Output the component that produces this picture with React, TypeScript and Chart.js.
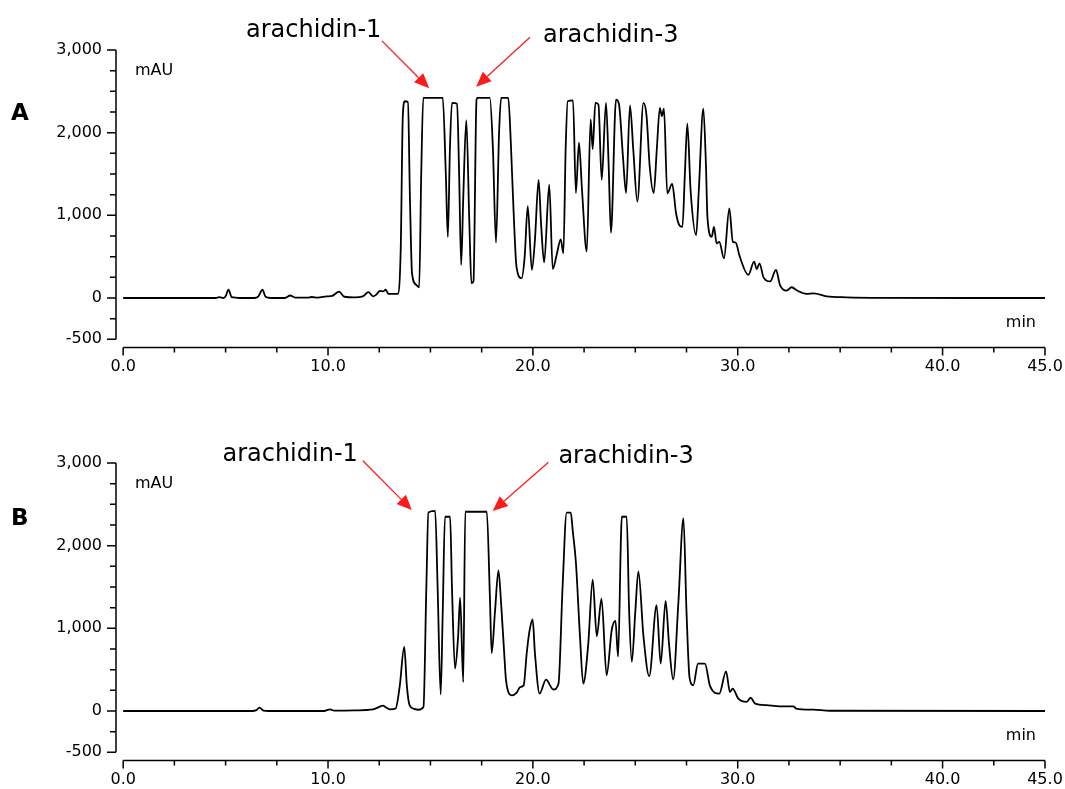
import React, { useEffect, useRef } from 'react';
import { Chart, registerables } from 'chart.js';

Chart.register(...registerables);

// ---- Data (retention time in min, absorbance in mAU) ----
const timesA = [
  0, 4.5, 4.7, 4.9, 5.0, 5.14, 5.3, 5.5, 5.7, 6.4, 6.6, 6.8, 6.95, 7.2, 7.9, 8.15, 8.4, 9.0, 9.2, 9.5,
  9.94, 10.2, 10.54, 10.8, 11.3, 11.7, 11.97, 12.2, 12.35, 12.54, 12.68, 12.82, 12.95, 13.4, 13.55, 13.65,
  13.75, 13.9, 14.0, 14.1, 14.3, 14.45, 14.55, 14.65, 15.6, 15.75, 15.85, 15.95, 16.05, 16.3, 16.4, 16.5,
  16.6, 16.75, 16.9, 17.0, 17.1, 17.25, 17.3, 17.9, 18.05, 18.2, 18.35, 18.45, 18.8, 18.92, 19.05, 19.2,
  19.45, 19.6, 19.75, 19.95, 20.1, 20.28, 20.4, 20.55, 20.8, 20.97, 21.16, 21.36, 21.49, 21.6, 21.7, 21.96,
  22.1, 22.25, 22.4, 22.63, 22.82, 22.92, 23.05, 23.2, 23.36, 23.57, 23.7, 23.81, 24.06, 24.2, 24.4, 24.55,
  24.74, 24.9, 25.1, 25.4, 25.55, 25.7, 25.9, 26.05, 26.2, 26.3, 26.4, 26.56, 26.8, 26.99, 27.15, 27.3,
  27.42, 27.54, 27.7, 27.97, 28.1, 28.32, 28.45, 28.52, 28.73, 28.84, 28.97, 29.1, 29.33, 29.59, 29.76,
  29.9, 30.1, 30.52, 30.8, 30.93, 31.06, 31.26, 31.58, 31.87, 32.06, 32.39, 32.63, 32.9, 33.36, 33.7,
  34.34, 35.3, 37.1, 45,
];
const valuesA = [
  0, 0, 10, 0, 20, 100, 10, 5, 0, 0, 20, 100, 15, 0, 0, 30, 5, 5, 12, 5,
  20, 25, 78, 15, 8, 20, 70, 20, 40, 87, 80, 100, 50, 50, 600, 2200,
  2380, 2370, 1200, 300, 160, 130, 1500, 2420, 2420, 1500, 740, 1800, 2360, 2350, 1500, 400,
  1200, 2150, 900, 180, 200, 2400, 2420, 2420, 1800, 670, 2000, 2420, 2420, 1900, 1100, 380,
  240, 500, 1110, 340, 700, 1430, 900, 430, 1370, 350, 520, 710, 540, 1800, 2380, 2390,
  1270, 1880, 1300, 560, 2160, 1800, 2360, 2340, 1430, 2360, 1600, 790, 2400, 2350, 1700, 1270,
  2330, 1800, 1165, 2360, 2200, 1600, 1270, 1800, 2300, 2200, 2290, 1265, 1380, 1025, 880, 860,
  1500, 2110, 1300, 760, 1300, 2290, 1600, 985, 740, 860, 660, 680, 480, 1085, 680,
  670, 500, 280, 440, 350, 420, 250, 200, 340, 160, 90, 130, 90, 50, 55,
  20, 8, 2, 0,
];

const timesB = [
  0, 6.3, 6.5, 6.65, 6.85, 7.1, 9.8, 10.1, 10.3, 11.3, 12.2, 12.5, 12.67, 12.85, 13.03, 13.3, 13.5, 13.72,
  13.85, 13.98, 14.2, 14.42, 14.66, 14.8, 14.9, 15.23, 15.35, 15.5, 15.6, 15.71, 15.96, 16.05, 16.2, 16.35,
  16.45, 16.6, 16.7, 17.75, 17.9, 17.99, 18.15, 18.32, 18.45, 18.6, 18.69, 18.97, 19.2, 19.38, 19.55, 19.7,
  19.83, 19.99, 20.1, 20.33, 20.64, 21.0, 21.25, 21.45, 21.65, 21.85, 21.95, 22.1, 22.3, 22.46, 22.7, 22.92,
  23.12, 23.35, 23.6, 23.85, 24.03, 24.16, 24.3, 24.34, 24.58, 24.7, 24.83, 25.0, 25.15, 25.4, 25.68, 26.04,
  26.24, 26.48, 26.65, 26.85, 27.1, 27.35, 27.5, 27.65, 27.83, 28.06, 28.4, 28.65, 29.1, 29.43, 29.62, 29.75,
  30.03, 30.44, 30.63, 30.85, 31.41, 32.06, 32.71, 32.85, 33.7, 34.5, 45,
];
const valuesB = [
  0, 0, 10, 40, 5, 0, 0, 20, 5, 8, 20, 50, 65, 40, 20, 30, 300, 775,
  300, 70, 25, 15, 50, 1500, 2400, 2420, 1500, 200, 1200, 2350, 2350, 1500, 513, 900,
  1370, 350, 2410, 2410, 1400, 700, 1200, 1700, 1300, 700, 370, 190, 220, 290, 310, 700,
  960, 1107, 700, 210, 380, 260, 330, 1500, 2400, 2400, 2170, 1800, 900, 330, 800, 1590,
  905, 1360, 432, 980, 1090, 660, 2100, 2350, 2350, 1200, 594, 1200, 1690, 900, 420, 1280,
  574, 1333, 800, 380, 1300, 2330, 1200, 400, 311, 574, 574, 300, 210, 480, 230, 270,
  150, 110, 160, 90, 70, 57, 57, 30, 16, 3, 0,
];

// ---- Axis ticks ----
const xMajorTicks = [0, 10, 20, 30, 40, 45];
const xMinorTicks = [2.5, 5, 7.5, 12.5, 15, 17.5, 22.5, 25, 27.5, 32.5, 35, 37.5, 42.5];
const yMajorTicks = [-500, 0, 1000, 2000, 3000];
const yMinorTicks = [-250, 250, 500, 750, 1250, 1500, 1750, 2250, 2500, 2750];

// ---- Annotations (data coordinates: t = min, v = mAU) ----
const annotationLabels = ['arachidin-1', 'arachidin-3'];
const annotationTextA = [[9.3, 3160], [23.8, 3095]];
const arrowStartA = [[12.63, 3110], [19.86, 3154]];
const arrowTipA = [[14.94, 2536], [17.23, 2556]];
const annotationTextB = [[8.15, 3030], [24.55, 3000]];
const arrowStartB = [[11.7, 3028], [20.76, 3008]];
const arrowTipB = [[14.09, 2431], [18.04, 2419]];

const TICK_FONT = 'DejaVu Sans';

type PanelSpec = {
  letter: string;
  letterBaseline: number;
  times: number[];
  values: number[];
  text: number[][];
  start: number[][];
  tip: number[][];
};

const panels: PanelSpec[] = [
  { letter: 'A', letterBaseline: 120, times: timesA, values: valuesA, text: annotationTextA, start: arrowStartA, tip: arrowTipA },
  { letter: 'B', letterBaseline: 112, times: timesB, values: valuesB, text: annotationTextB, start: arrowStartB, tip: arrowTipB },
];

function makePlugin(spec: PanelSpec) {
  return {
    id: 'customAxes' + spec.letter,
    afterDraw(chart: any) {
      const ctx = chart.ctx as CanvasRenderingContext2D;
      const xs = chart.scales.x;
      const ys = chart.scales.y;
      const area = chart.chartArea;
      ctx.save();
      ctx.strokeStyle = '#000';
      ctx.lineWidth = 1.5;
      ctx.lineCap = 'butt';
      // y axis
      const yx = area.left;
      ctx.beginPath();
      ctx.moveTo(yx, ys.getPixelForValue(3000));
      ctx.lineTo(yx, ys.getPixelForValue(-500));
      yMajorTicks.forEach((v) => {
        const p = ys.getPixelForValue(v);
        ctx.moveTo(yx, p);
        ctx.lineTo(yx - 9, p);
      });
      yMinorTicks.forEach((v) => {
        const p = ys.getPixelForValue(v);
        ctx.moveTo(yx, p);
        ctx.lineTo(yx - 6, p);
      });
      // x axis
      const xy = area.bottom;
      ctx.moveTo(xs.getPixelForValue(0), xy);
      ctx.lineTo(xs.getPixelForValue(45), xy);
      xMajorTicks.forEach((v) => {
        const p = xs.getPixelForValue(v);
        ctx.moveTo(p, xy);
        ctx.lineTo(p, xy + 8);
      });
      xMinorTicks.forEach((v) => {
        const p = xs.getPixelForValue(v);
        ctx.moveTo(p, xy);
        ctx.lineTo(p, xy + 5);
      });
      ctx.stroke();

      // axis unit labels
      ctx.fillStyle = '#000';
      ctx.font = `16px "${TICK_FONT}"`;
      ctx.textAlign = 'left';
      ctx.textBaseline = 'alphabetic';
      ctx.fillText('mAU', 135, ys.getPixelForValue(3000) + 25);
      ctx.textAlign = 'right';
      ctx.fillText('min', xs.getPixelForValue(45) - 9, area.bottom - 21);

      // panel letter
      ctx.textAlign = 'left';
      ctx.font = `bold 23px "${TICK_FONT}"`;
      ctx.fillText(spec.letter, 11, spec.letterBaseline);

      // annotations
      ctx.font = `24px "${TICK_FONT}"`;
      ctx.textAlign = 'center';
      annotationLabels.forEach((label, i) => {
        ctx.fillStyle = '#000';
        ctx.fillText(label, xs.getPixelForValue(spec.text[i][0]), ys.getPixelForValue(spec.text[i][1]));
        const x0 = xs.getPixelForValue(spec.start[i][0]);
        const y0 = ys.getPixelForValue(spec.start[i][1]);
        const x1 = xs.getPixelForValue(spec.tip[i][0]);
        const y1 = ys.getPixelForValue(spec.tip[i][1]);
        const ang = Math.atan2(y1 - y0, x1 - x0);
        const headLen = 15;
        const headHalf = 6.5;
        const bx = x1 - headLen * Math.cos(ang);
        const by = y1 - headLen * Math.sin(ang);
        ctx.strokeStyle = '#ff1a1a';
        ctx.fillStyle = '#ff1a1a';
        ctx.lineWidth = 1.3;
        ctx.beginPath();
        ctx.moveTo(x0, y0);
        ctx.lineTo(bx, by);
        ctx.stroke();
        ctx.beginPath();
        ctx.moveTo(x1, y1);
        ctx.lineTo(bx + headHalf * Math.sin(ang), by - headHalf * Math.cos(ang));
        ctx.lineTo(bx - headHalf * Math.sin(ang), by + headHalf * Math.cos(ang));
        ctx.closePath();
        ctx.fill();
      });
      ctx.restore();
    },
  };
}

function Panel({ spec, top }: { spec: PanelSpec; top: number }) {
  const ref = useRef<HTMLCanvasElement>(null);
  useEffect(() => {
    if (!ref.current) return;
    const points = spec.times.map((t, i) => ({ x: t, y: spec.values[i] }));
    const chart = new Chart(ref.current, {
      type: 'line',
      data: {
        datasets: [
          {
            data: points,
            borderColor: '#000',
            borderWidth: 1.8,
            pointRadius: 0,
            cubicInterpolationMode: 'monotone',
            fill: false,
          },
        ],
      },
      options: {
        animation: false,
        responsive: false,
        parsing: false as any,
        layout: { padding: { top: 50, left: 0, right: 20, bottom: 35.4 } },
        plugins: { legend: { display: false }, tooltip: { enabled: false } },
        scales: {
          x: {
            type: 'linear',
            min: -0.35,
            max: 45,
            grid: { display: false, drawTicks: false },
            border: { display: false },
            afterBuildTicks: (scale: any) => {
              scale.ticks = xMajorTicks.map((v) => ({ value: v }));
            },
            afterFit: (scale: any) => {
              scale.height = 30;
              scale.paddingLeft = 0;
              scale.paddingRight = 0;
            },
            ticks: {
              autoSkip: false,
              maxRotation: 0,
              padding: 10,
              color: '#000',
              font: { family: TICK_FONT, size: 16 },
              callback: (v: any) => Number(v).toFixed(1),
            },
          },
          y: {
            type: 'linear',
            min: -600,
            max: 3000,
            grid: { display: false, drawTicks: false },
            border: { display: false },
            afterBuildTicks: (scale: any) => {
              scale.ticks = yMajorTicks.map((v) => ({ value: v }));
            },
            afterFit: (scale: any) => {
              scale.width = 116;
              scale.paddingTop = 0;
              scale.paddingBottom = 0;
            },
            ticks: {
              autoSkip: false,
              padding: 14,
              color: '#000',
              font: { family: TICK_FONT, size: 16 },
              callback: (v: any) => (Number(v) < 0 ? '-' + Math.abs(Number(v)) : Number(v).toLocaleString('en-US')),
            },
          },
        },
      },
      plugins: [makePlugin(spec)],
    });
    return () => chart.destroy();
  }, [spec]);
  return (
    <div style={{ position: 'absolute', left: 0, top, width: 1065, height: 413 }}>
      <canvas ref={ref} width={1065} height={413} style={{ display: 'block' }} />
    </div>
  );
}

export default function App() {
  return (
    <div
      style={{
        position: 'fixed',
        left: 0,
        top: 0,
        width: 1065,
        height: 789,
        overflow: 'hidden',
        background: '#fff',
      }}
    >
      <Panel spec={panels[0]} top={0} />
      <Panel spec={panels[1]} top={413} />
    </div>
  );
}
